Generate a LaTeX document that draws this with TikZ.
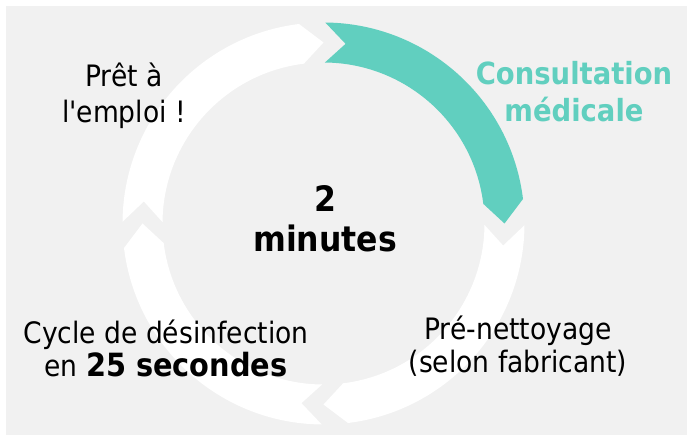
\documentclass[tikz,border=0pt]{standalone}
\usepackage{fontspec}
\setmainfont{DejaVu Sans Condensed}
\usepackage{xcolor}
\definecolor{cyclegray}{RGB}{241,241,241}
\definecolor{consultteal}{RGB}{97,207,191}
\newcommand{\apos}{\XeTeXglyph\XeTeXcharglyph"27\relax}

\tikzset{
  steptext/.style={align=center, font=\fontsize{29.5}{33}\selectfont},
}

\begin{document}
\begin{tikzpicture}[x=1pt, y=1pt]
\useasboundingbox (0,0) rectangle (691,439);
\fill[cyclegray] (6,4) rectangle (687,433);
% Cycle arrows
\foreach \s/\col in {90/consultteal, 0/white, -90/white, -180/white} {
  \fill[\col, shift={(323.5,215.5)}] (\s-0.5:201) arc[start angle=\s-0.5, end angle=\s-83, radius=201]
    -- (\s-90:181) -- (\s-83:161) arc[start angle=\s-83, end angle=\s-0.5, radius=161]
    -- (\s-7:181) -- cycle;
}
% Steps
\node[steptext, font=\fontsize{29.5}{36}\selectfont] (ready) at (124,343) {Prêt à\\l\apos emploi !};
\node[steptext, text=consultteal, font=\fontsize{30.5}{37}\selectfont\bfseries] (consult) at (574,347) {Consultation\\médicale};
\node[steptext] (prenet) at (518,93) {Pré-nettoyage\\(selon fabricant)};
\node[steptext] (disinf) at (166,91) {Cycle de désinfection\\en {\fontsize{32}{33}\selectfont\bfseries 25 secondes}};
\node[align=center, font=\fontsize{35}{40}\selectfont\bfseries] (time) at (325,220.5) {2\\minutes};
\end{tikzpicture}
\end{document}
